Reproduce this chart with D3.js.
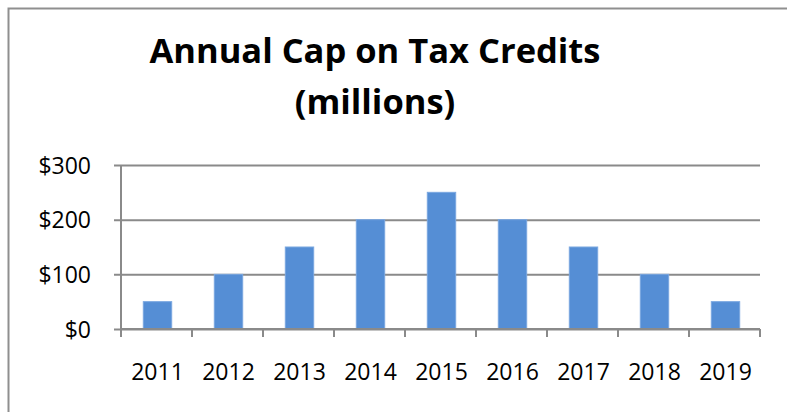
<!DOCTYPE html>
<html>
<head>
<meta charset="utf-8">
<script src="https://cdn.jsdelivr.net/npm/d3@7"></script>
<style>
  html, body { margin: 0; padding: 0; background: #fff; }
  svg { display: block; }
  text { font-family: "Open Sans", "Liberation Sans", sans-serif; fill: #000; }
</style>
</head>
<body>
<svg id="chart" width="787" height="412"></svg>
<script>
// Annual cap on tax credits, in millions of dollars
const years = ["2011", "2012", "2013", "2014", "2015", "2016", "2017", "2018", "2019"];
const capMillions = [50, 100, 150, 200, 250, 200, 150, 100, 50];
const yTicks = [0, 100, 200, 300];
const titleLines = ["Annual Cap on Tax Credits", "(millions)"];

const svg = d3.select("#chart");
const W = 787, H = 412;
const margin = { left: 121, right: 27, top: 165, bottom: 83 };
const gridColor = "#8a8a8a";

// outer frame
svg.append("rect")
  .attr("x", 8.5).attr("y", 8.5)
  .attr("width", W).attr("height", H)
  .attr("fill", "none")
  .attr("stroke", "#8f8f8f")
  .attr("stroke-width", 2);

const x = d3.scaleBand()
  .domain(years)
  .range([margin.left, W - margin.right])
  .paddingInner(0.6)
  .paddingOuter(0.3);

const y = d3.scaleLinear()
  .domain([0, 300])
  .range([H - margin.bottom, margin.top]);

// horizontal gridlines with small outward ticks
const yAxis = d3.axisLeft(y)
  .tickValues(yTicks)
  .tickSize(-(W - margin.right - margin.left))
  .tickSizeOuter(0)
  .tickFormat(d => "$" + d);

const gy = svg.append("g")
  .attr("transform", `translate(${margin.left},0)`)
  .call(yAxis);
gy.select(".domain").remove();
gy.selectAll(".tick line")
  .attr("x1", -7)
  .attr("stroke", gridColor)
  .attr("stroke-width", 2);
gy.selectAll(".tick text")
  .attr("x", -30)
  .attr("dy", "0.36em")
  .attr("font-size", 23)
  .attr("text-anchor", "end");

// vertical axis line
svg.append("line")
  .attr("x1", margin.left).attr("x2", margin.left)
  .attr("y1", y(300)).attr("y2", y(0) + 8)
  .attr("stroke", gridColor)
  .attr("stroke-width", 2);

// bars
svg.append("g")
  .selectAll("rect")
  .data(years.map((yr, i) => ({ yr, v: capMillions[i] })))
  .join("rect")
  .attr("x", d => x(d.yr) + 1)
  .attr("width", x.bandwidth())
  .attr("y", d => y(d.v))
  .attr("height", d => y(0) - y(d.v))
  .attr("fill", "#558ed5")
  .attr("stroke", "#7aa7e0")
  .attr("stroke-width", 1);

// category axis: baseline, ticks between categories, labels
const step = x.step();
const xAxisG = svg.append("g");
xAxisG.append("line")
  .attr("x1", margin.left).attr("x2", W - margin.right)
  .attr("y1", y(0)).attr("y2", y(0))
  .attr("stroke", gridColor)
  .attr("stroke-width", 2);
xAxisG.selectAll(".sep")
  .data(d3.range(years.length + 1))
  .join("line")
  .attr("class", "sep")
  .attr("x1", i => margin.left + i * step)
  .attr("x2", i => margin.left + i * step)
  .attr("y1", y(0)).attr("y2", y(0) + 8)
  .attr("stroke", gridColor)
  .attr("stroke-width", 2);
xAxisG.selectAll(".lbl")
  .data(years)
  .join("text")
  .attr("class", "lbl")
  .attr("x", d => x(d) + x.bandwidth() / 2 + 1)
  .attr("y", y(0) + 51)
  .attr("font-size", 23)
  .attr("text-anchor", "middle")
  .text(d => d);

// title
svg.append("g")
  .selectAll("text")
  .data(titleLines)
  .join("text")
  .attr("x", 375)
  .attr("y", (d, i) => 63 + i * 51)
  .attr("text-anchor", "middle")
  .attr("font-size", 34.5)
  .attr("font-weight", "bold")
  .text(d => d);
</script>
</body>
</html>
